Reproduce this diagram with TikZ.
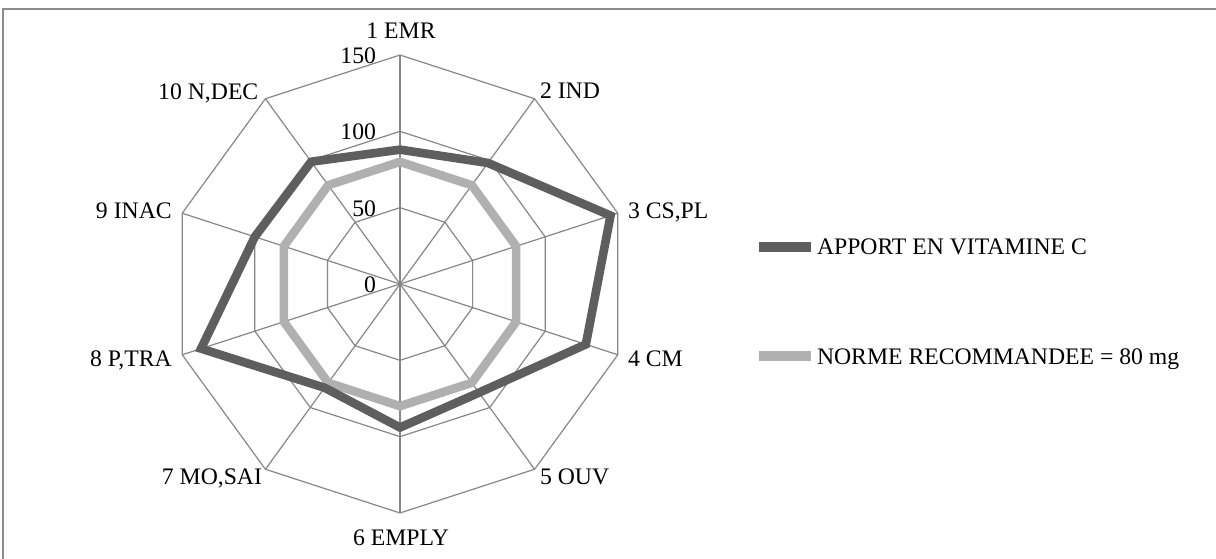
\documentclass[tikz,border=0pt]{standalone}
\usepackage{fontspec}
\setmainfont{Liberation Serif}
\begin{document}
\begin{tikzpicture}[x=0.5pt,y=0.5pt,
  font=\fontsize{11.85}{14}\selectfont,
  frameline/.style={draw=black!45,line width=1pt},
  gridline/.style={draw=black!47,line width=0.6pt},
  darkser/.style={draw=black!63,line width=4.3pt,line join=miter},
  lightser/.style={draw=black!31,line width=4.3pt,line join=miter},
  lbl/.style={inner sep=0pt,outer sep=0pt}]
\useasboundingbox (0,0) rectangle (1216,558);
\fill[white] (0,0) rectangle (1216,558);
\draw[frameline] (3,-10) -- (3,549) -- (1230,549);
\pgfmathsetmacro{\k}{229/150}
\begin{scope}[shift={(400,274)}]
  \foreach \r in {50,100,150}
    \draw[gridline] (90:\r*\k)--(54:\r*\k)--(18:\r*\k)--(-18:\r*\k)--(-54:\r*\k)--(-90:\r*\k)--(-126:\r*\k)--(-162:\r*\k)--(162:\r*\k)--(126:\r*\k)--cycle;
  \foreach \a in {90,54,18,-18,-54,-90,-126,-162,162,126}
    \draw[gridline] (0,0) -- (\a:150*\k);
  \draw[lightser] (90:80*\k)--(54:80*\k)--(18:80*\k)--(-18:80*\k)--(-54:80*\k)--(-90:80*\k)--(-126:80*\k)--(-162:80*\k)--(162:80*\k)--(126:80*\k)--cycle;
  \draw[darkser] (90:88*\k)--(54:98*\k)--(18:145*\k)--(-18:128*\k)--(-54:88*\k)--(-90:94*\k)--(-126:84*\k)--(-162:137*\k)--(162:100*\k)--(126:99*\k)--cycle;
\end{scope}
% tick labels
\node[lbl,anchor=base east] (t150) at (376,494.7) {150};
\node[lbl,anchor=base east] (t100) at (376,418) {100};
\node[lbl,anchor=base east] (t50) at (376,342) {50};
\node[lbl,anchor=base east] (t0) at (376,265) {0};
% axis labels
\node[lbl,anchor=base] (a1) at (401,519.7) {1 EMR};
\node[lbl,anchor=base west] (a2) at (540,459) {2 IND};
\node[lbl,anchor=base west] (a3) at (628,339.7) {3 CS,PL};
\node[lbl,anchor=base west] (a4) at (628,191.3) {4 CM};
\node[lbl,anchor=base west] (a5) at (540,74) {5 OUV};
\node[lbl,anchor=base] (a6) at (401,13) {6 EMPLY};
\node[lbl,anchor=base east] (a7) at (262,74) {7 MO,SAI};
\node[lbl,anchor=base east] (a8) at (171.7,191.3) {8 P,TRA};
\node[lbl,anchor=base east] (a9) at (171.7,339.7) {9 INAC};
\node[lbl,anchor=base east] (a10) at (258.3,458.7) {10 N,DEC};
% legend
\coordinate (l1a) at (759,311);
\coordinate (l1b) at (811,311);
\draw[draw=black!63,line width=5pt] (l1a) -- (l1b);
\node[lbl,anchor=base west] (leg1) at (817,304) {APPORT EN VITAMINE C};
\coordinate (l2a) at (759,202);
\coordinate (l2b) at (811,202);
\draw[draw=black!31,line width=5pt] (l2a) -- (l2b);
\node[lbl,anchor=base west] (leg2) at (817,193.7) {NORME RECOMMANDEE = 80 mg};
\end{tikzpicture}
\end{document}
